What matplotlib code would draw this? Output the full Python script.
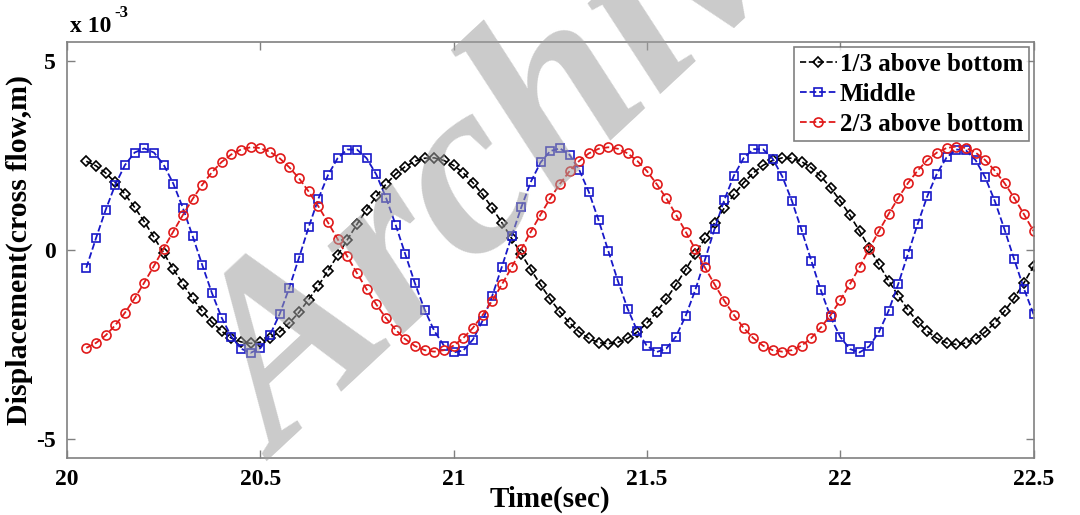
import numpy as np
import matplotlib
matplotlib.use("Agg")
import matplotlib.pyplot as plt

plt.rcParams['font.family'] = ['Liberation Serif', 'DejaVu Serif']
plt.rcParams['font.weight'] = 'bold'
plt.rcParams['axes.unicode_minus'] = False

# sampling grid of the simulation output (sec)
t_start = 20.05
t_step = 0.025
n_samples = 99
time = t_start + t_step * np.arange(n_samples)

# cross-flow displacement, units of 1e-3 m
one_third = [
    2.35, 2.23, 2.04, 1.79, 1.48, 1.13, 0.75, 0.34, -0.08, -0.50,
    -0.90, -1.28, -1.62, -1.91, -2.15, -2.33, -2.43, -2.47, -2.44, -2.33,
    -2.16, -1.93, -1.65, -1.31, -0.95, -0.55, -0.14, 0.27, 0.68, 1.07,
    1.42, 1.74, 2.01, 2.21, 2.35, 2.43, 2.44, 2.37, 2.24, 2.04,
    1.78, 1.47, 1.11, 0.72, 0.31, -0.10, -0.52, -0.92, -1.30, -1.64,
    -1.93, -2.17, -2.34, -2.45, -2.48, -2.44, -2.34, -2.17, -1.93, -1.64,
    -1.30, -0.92, -0.52, -0.10, 0.31, 0.72, 1.11, 1.47, 1.78, 2.04,
    2.24, 2.37, 2.44, 2.43, 2.34, 2.18, 1.95, 1.65, 1.30, 0.92,
    0.50, 0.06, -0.38, -0.81, -1.21, -1.58, -1.90, -2.15, -2.34, -2.46,
    -2.50, -2.46, -2.35, -2.17, -1.92, -1.62, -1.27, -0.87, -0.43,
]
middle = [
    -0.47, 0.31, 1.06, 1.73, 2.25, 2.58, 2.69, 2.58, 2.26, 1.76,
    1.11, 0.37, -0.40, -1.14, -1.79, -2.29, -2.61, -2.72, -2.60, -2.25,
    -1.70, -1.00, -0.21, 0.60, 1.35, 1.98, 2.43, 2.66, 2.66, 2.43,
    2.00, 1.39, 0.67, -0.11, -0.88, -1.58, -2.14, -2.53, -2.71, -2.66,
    -2.37, -1.87, -1.21, -0.44, 0.36, 1.13, 1.81, 2.32, 2.62, 2.69,
    2.52, 2.12, 1.53, 0.79, -0.02, -0.82, -1.55, -2.14, -2.54, -2.70,
    -2.61, -2.29, -1.75, -1.06, -0.26, 0.56, 1.32, 1.97, 2.43, 2.67,
    2.67, 2.42, 1.95, 1.30, 0.53, -0.28, -1.07, -1.77, -2.30, -2.62,
    -2.71, -2.55, -2.17, -1.61, -0.90, -0.11, 0.68, 1.42, 2.02, 2.45,
    2.66, 2.64, 2.38, 1.92, 1.29, 0.54, -0.25, -1.02, -1.70,
]
two_thirds = [
    -2.59, -2.46, -2.26, -1.99, -1.66, -1.28, -0.86, -0.42, 0.04, 0.49,
    0.93, 1.35, 1.73, 2.06, 2.33, 2.53, 2.66, 2.72, 2.70, 2.60,
    2.43, 2.19, 1.90, 1.55, 1.16, 0.73, 0.29, -0.17, -0.61, -1.04,
    -1.44, -1.80, -2.11, -2.36, -2.54, -2.65, -2.69, -2.65, -2.53, -2.33,
    -2.06, -1.72, -1.34, -0.91, -0.46, 0.02, 0.49, 0.94, 1.37, 1.75,
    2.09, 2.36, 2.56, 2.68, 2.72, 2.68, 2.56, 2.36, 2.09, 1.75,
    1.37, 0.94, 0.49, 0.02, -0.46, -0.91, -1.34, -1.72, -2.06, -2.33,
    -2.53, -2.65, -2.69, -2.65, -2.53, -2.33, -2.05, -1.72, -1.33, -0.90,
    -0.45, 0.03, 0.50, 0.95, 1.38, 1.77, 2.10, 2.38, 2.58, 2.70,
    2.74, 2.70, 2.58, 2.38, 2.10, 1.77, 1.38, 0.95, 0.50,
]

labels = ['1/3 above bottom', 'Middle', '2/3 above bottom']
x_ticks = [20, 20.5, 21, 21.5, 22, 22.5]
x_ticklabels = ['20', '20.5', '21', '21.5', '22', '22.5']
y_ticks = [-5, 0, 5]

fig = plt.figure(figsize=(10.8, 5.15), dpi=100)
ax = fig.add_axes([0.062, 0.111, 0.895, 0.807])

ax.plot(time, one_third, color='black', linestyle='--', lw=1.2,
        marker='D', ms=5, mfc='none', mew=1.2, label=labels[0])
ax.plot(time, middle, color='#1818c8', linestyle='--', lw=1.3,
        marker='s', ms=6, mfc='none', mew=1.2, label=labels[1])
ax.plot(time, two_thirds, color='#e01a1a', linestyle='--', lw=1.3,
        marker='o', ms=6.5, mfc='none', mew=1.2, label=labels[2])

ax.set_xlim(20, 22.5)
ax.set_ylim(-5.5, 5.5)
ax.set_xticks(x_ticks)
ax.set_xticklabels(x_ticklabels)
ax.set_yticks(y_ticks)
ax.tick_params(direction='in', length=6, width=1, color='#808080',
               top=True, right=True, labelsize=17, pad=8)
for side in ax.spines.values():
    side.set_color('#808080')
    side.set_linewidth(1.2)

ax.set_xlabel('Time(sec)', fontsize=21, fontweight='bold', labelpad=-3)
ax.set_ylabel('Displacement(cross flow,m)', fontsize=21.5, fontweight='bold', labelpad=2)

# exponent note above the y axis
base = ax.text(0.003, 1.012, 'x 10', transform=ax.transAxes,
               fontsize=17, fontweight='bold', ha='left', va='bottom')
ax.annotate('-3', xy=(1, 0.75), xycoords=base, xytext=(2, 0),
            textcoords='offset points', fontsize=12, fontweight='bold',
            ha='left', va='bottom')

leg = ax.legend(loc='upper right', fontsize=18, handlelength=1.5,
                handletextpad=0.1, borderaxespad=0.2, labelspacing=0.28,
                borderpad=0.22, fancybox=False, numpoints=1)
leg.get_frame().set_edgecolor('#606060')
leg.get_frame().set_linewidth(1.2)
for txt in leg.get_texts():
    txt.set_fontweight('bold')

# grey watermark running off the top, as in the source
fig.text(280 / 1080, 1 - 462 / 515, 'Archive', fontsize=182, fontweight='bold',
         fontstyle='italic', color='#a0a0a0', alpha=0.55, rotation=43,
         rotation_mode='anchor', ha='left', va='baseline', zorder=10)

fig.savefig('out.png', dpi=100)
